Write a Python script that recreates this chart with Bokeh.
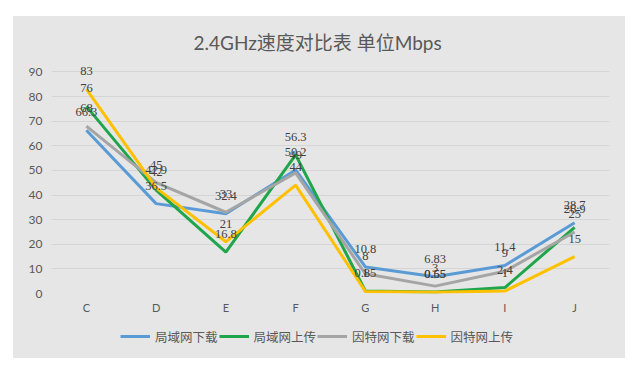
from bokeh.plotting import figure
from bokeh.layouts import column
from bokeh.models import ColumnDataSource, LabelSet, Legend, LegendItem, FixedTicker
from bokeh.embed import file_html
from bokeh.resources import INLINE

title_text = "2.4GHz速度对比表 单位Mbps"
categories = ["C", "D", "E", "F", "G", "H", "I", "J"]
series_names = ["局域网下载", "局域网上传", "因特网下载", "因特网上传"]
lan_down = [66.3, 36.5, 32.4, 50.2, 10.8, 6.83, 11.4, 28.7]
lan_up = [76, 42, 16.8, 56.3, 1, 0.65, 2.4, 26.9]
net_down = [68, 45, 33, 49, 8, 3, 9, 25]
net_up = [83, 42.9, 21, 44, 0.85, 0.55, 1, 15]
y_ticks = [0, 10, 20, 30, 40, 50, 60, 70, 80, 90]
colors = ["#5b9bd5", "#1fa64a", "#a5a5a5", "#ffc000"]

series = [lan_down, lan_up, net_down, net_up]

BG = "#e7e6e6"
TXT = "#595959"

# y range extends a little above the top tick so data labels above 90 are not clipped
p = figure(x_range=categories, y_range=(0, 92.6), width=612, height=302,
           output_backend="svg", toolbar_location=None,
           min_border_left=38, min_border_right=16, min_border_top=49, min_border_bottom=25)
p.background_fill_color = BG
p.border_fill_color = BG
p.outline_line_color = None

p.title.text = title_text
p.title.align = "left"
p.title.offset = 142
p.title.text_font = "Lato, Noto Sans CJK SC"
p.title.text_font_size = "19px"
p.title.text_font_style = "normal"
p.title.text_color = TXT
p.title.standoff = 24

p.xgrid.grid_line_color = None
p.ygrid.grid_line_color = "#d6d5d5"
p.ygrid.grid_line_width = 1
p.yaxis.ticker = FixedTicker(ticks=y_ticks)
for ax in (p.xaxis, p.yaxis):
    ax.axis_line_color = None
    ax.major_tick_line_color = None
    ax.minor_tick_line_color = None
    ax.major_tick_out = 0
    ax.major_tick_in = 0
    ax.minor_tick_out = 0
    ax.major_label_text_color = TXT
    ax.major_label_text_font = "Lato"
p.yaxis.major_label_text_font_size = "12px"
p.xaxis.major_label_text_font_size = "11px"
p.yaxis.major_label_standoff = 9
p.xaxis.major_label_standoff = 7

for name, vals, c in zip(series_names, series, colors):
    src = ColumnDataSource(dict(x=categories, y=vals))
    p.line("x", "y", source=src, line_color=c, line_width=3)

for name, vals, c in zip(series_names, series, colors):
    src = ColumnDataSource(dict(x=categories, y=vals, t=[str(v) for v in vals]))
    labels = LabelSet(x="x", y="y", text="t", source=src, y_offset=18,
                      text_align="center", text_baseline="middle",
                      text_font="Lato", text_font_size="12.5px", text_color="#404040")
    p.add_layout(labels)

# legend strip below the chart, same panel colour
q = figure(width=612, height=40, output_backend="svg", toolbar_location=None,
           min_border=0, x_range=(0, 1), y_range=(0, 1))
q.axis.visible = False
q.grid.visible = False
q.background_fill_alpha = 0
q.border_fill_alpha = 0
q.outline_line_color = None
items = []
for name, c in zip(series_names, colors):
    # swatch-only renderers, kept outside the visible range
    r = q.line(x=[-2, -1], y=[-2, -1], line_color=c, line_width=3)
    items.append(LegendItem(label=name, renderers=[r]))
legend = Legend(items=items, orientation="horizontal", location=(69, 12),
                glyph_width=30, glyph_height=20, label_height=20, label_standoff=5,
                spacing=1, padding=0, margin=0,
                label_text_font="Noto Sans CJK SC", label_text_font_size="12.5px",
                label_text_color=TXT, border_line_color=None, background_fill_alpha=0)
q.add_layout(legend, "center")

layout = column(p, q, spacing=0, margin=(16, 0, 0, 13),
                styles={"background-color": BG})

open("out.html", "w").write(file_html(layout, INLINE))
